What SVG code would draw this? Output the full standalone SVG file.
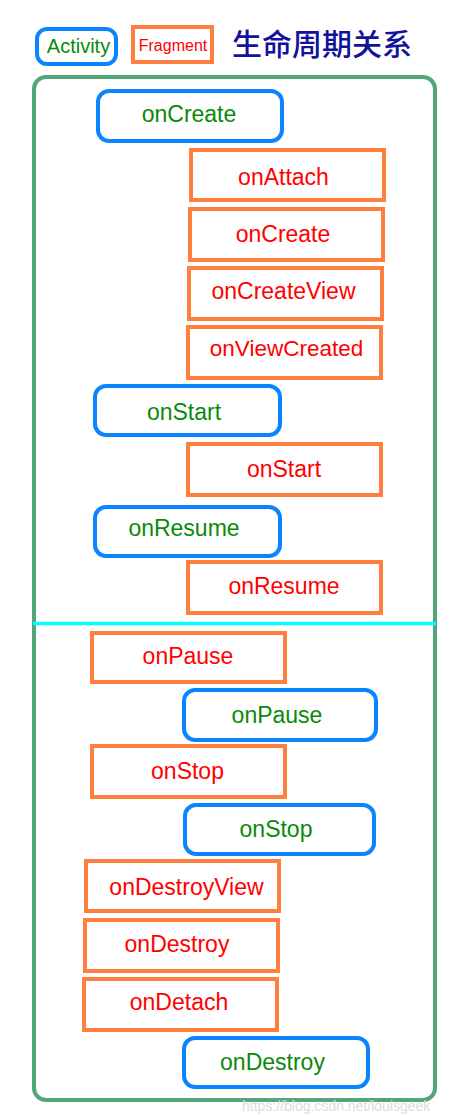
<svg xmlns="http://www.w3.org/2000/svg" width="464" height="1115" viewBox="0 0 464 1115">
<style>
.act rect{fill:#fff;stroke:#0a84ff;stroke-width:4}
.frag rect{fill:#fff;stroke:#ff7f3f;stroke-width:4}
.act text{fill:#0a8a0a;font-family:"Liberation Sans",Arial,sans-serif;font-size:23px;text-anchor:middle}
.frag text{fill:#ff0000;font-family:"Liberation Sans",Arial,sans-serif;font-size:23px;text-anchor:middle}
</style>
<rect width="464" height="1115" fill="#fff"/>
<g id="legend">
  <g id="legend-activity" class="act">
    <rect x="37" y="29" width="79" height="35" rx="10"/>
    <text x="78.5" y="53" style="font-size:20px">Activity</text>
  </g>
  <g id="legend-fragment" class="frag">
    <rect x="133" y="27" width="79" height="35"/>
    <text x="173" y="51" style="font-size:16px">Fragment</text>
  </g>
  <text id="title" x="232" y="55" font-family="'Noto Sans CJK SC',sans-serif" font-size="30" font-weight="500" fill="#12129a">生命周期关系</text>
</g>
<g id="frame">
  <rect x="34" y="77" width="401" height="1023" rx="12" fill="none" stroke="#52a67a" stroke-width="4"/>
</g>
<g id="connectors">
  <line x1="33" y1="623.5" x2="436" y2="623.5" stroke="#00ffff" stroke-width="3.5"/>
</g>
<g id="a-onCreate" class="act"><rect x="98" y="91" width="184" height="50" rx="11"/><text x="189" y="122">onCreate</text></g>
<g id="f-onAttach" class="frag"><rect x="191" y="150" width="193" height="50"/><text x="283.5" y="185">onAttach</text></g>
<g id="f-onCreate" class="frag"><rect x="190" y="209" width="193" height="51"/><text x="283" y="242">onCreate</text></g>
<g id="f-onCreateView" class="frag"><rect x="189" y="268" width="193" height="51"/><text x="283.5" y="298.5">onCreateView</text></g>
<g id="f-onViewCreated" class="frag"><rect x="188" y="327" width="193" height="51"/><text x="286.5" y="356" style="font-size:22.5px">onViewCreated</text></g>
<g id="a-onStart" class="act"><rect x="95" y="386" width="185" height="49" rx="11"/><text x="184" y="419.5">onStart</text></g>
<g id="f-onStart" class="frag"><rect x="188" y="444" width="193" height="51"/><text x="284" y="477">onStart</text></g>
<g id="a-onResume" class="act"><rect x="95" y="507" width="185" height="49" rx="11"/><text x="184" y="535.5">onResume</text></g>
<g id="f-onResume" class="frag"><rect x="188" y="562" width="193" height="51"/><text x="284" y="593.5">onResume</text></g>
<g id="f-onPause" class="frag"><rect x="92" y="633" width="193" height="49"/><text x="188" y="663.5">onPause</text></g>
<g id="a-onPause" class="act"><rect x="184" y="690" width="192" height="50" rx="11"/><text x="277" y="723">onPause</text></g>
<g id="f-onStop" class="frag"><rect x="92" y="746" width="193" height="51"/><text x="187.5" y="778.5">onStop</text></g>
<g id="a-onStop" class="act"><rect x="185" y="805" width="189" height="49" rx="11"/><text x="276" y="837">onStop</text></g>
<g id="f-onDestroyView" class="frag"><rect x="86" y="861" width="193" height="50"/><text x="186.5" y="895">onDestroyView</text></g>
<g id="f-onDestroy" class="frag"><rect x="85" y="920" width="193" height="51"/><text x="177" y="952">onDestroy</text></g>
<g id="f-onDetach" class="frag"><rect x="84" y="979" width="193" height="51"/><text x="179" y="1009.5">onDetach</text></g>
<g id="a-onDestroy" class="act"><rect x="184" y="1038" width="184" height="49" rx="11"/><text x="272.5" y="1070">onDestroy</text></g>
<text id="watermark" x="242" y="1111" font-family="'Liberation Sans',Arial,sans-serif" font-size="14" fill="#dcdcdc">https://blog.csdn.net/louisgeek</text>
</svg>
